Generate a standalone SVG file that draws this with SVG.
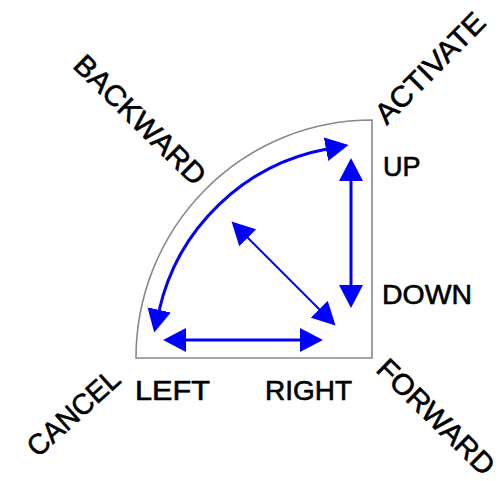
<svg xmlns="http://www.w3.org/2000/svg" width="504" height="481" viewBox="0 0 504 481">
<style>
text{font-family:"Liberation Sans",Arial,sans-serif;fill:#000;stroke:#000;stroke-width:0.6}
.h{font-size:27px}
.r{font-size:29px;text-anchor:middle}
.a{fill:none;stroke:#0000ff}
</style>
<defs>
<marker id="ah" markerUnits="userSpaceOnUse" markerWidth="24" markerHeight="24" refX="1" refY="11.5" orient="auto-start-reverse" viewBox="0 0 23 23">
<path d="M0,0 L22,11.5 L0,23 Z" fill="#0000ff"/>
</marker>
</defs>
<rect width="504" height="481" fill="#fff"/>
<g id="quadrant">
<path d="M136,358 L372,358 L372,120 A236,238 0 0 0 136,358 Z" fill="#fff" stroke="#888" stroke-width="1.6"/>
</g>
<g id="connectors">
<path class="a" d="M185,340 L301,340" stroke-width="3" marker-start="url(#ah)" marker-end="url(#ah)"/>
<path class="a" d="M351,180 L351,286" stroke-width="3" marker-start="url(#ah)" marker-end="url(#ah)"/>
<path class="a" d="M247,237 L320,310" stroke-width="2" marker-start="url(#ah)" marker-end="url(#ah)"/>
<path class="a" d="M159,311 A212,212 0 0 1 327,149" stroke-width="3" marker-start="url(#ah)" marker-end="url(#ah)"/>
</g>
<g id="up"><text class="h" x="383" y="176">UP</text></g>
<g id="down"><text class="h" x="382" y="304" textLength="90" lengthAdjust="spacingAndGlyphs">DOWN</text></g>
<g id="left"><text class="h" x="135" y="400" textLength="75" lengthAdjust="spacingAndGlyphs">LEFT</text></g>
<g id="right"><text class="h" x="265" y="400" textLength="87" lengthAdjust="spacingAndGlyphs">RIGHT</text></g>
<g id="backward"><text class="r" transform="translate(133,127) rotate(44.5)" textLength="172" lengthAdjust="spacingAndGlyphs">BACKWARD</text></g>
<g id="activate"><text class="r" transform="translate(437,75) rotate(-45.3)" textLength="143" lengthAdjust="spacingAndGlyphs">ACTIVATE</text></g>
<g id="cancel"><text class="r" transform="translate(80,420) rotate(-42)" textLength="114" lengthAdjust="spacingAndGlyphs">CANCEL</text></g>
<g id="forward"><text class="r" transform="translate(429,424) rotate(44.4)" textLength="152" lengthAdjust="spacingAndGlyphs">FORWARD</text></g>
</svg>
